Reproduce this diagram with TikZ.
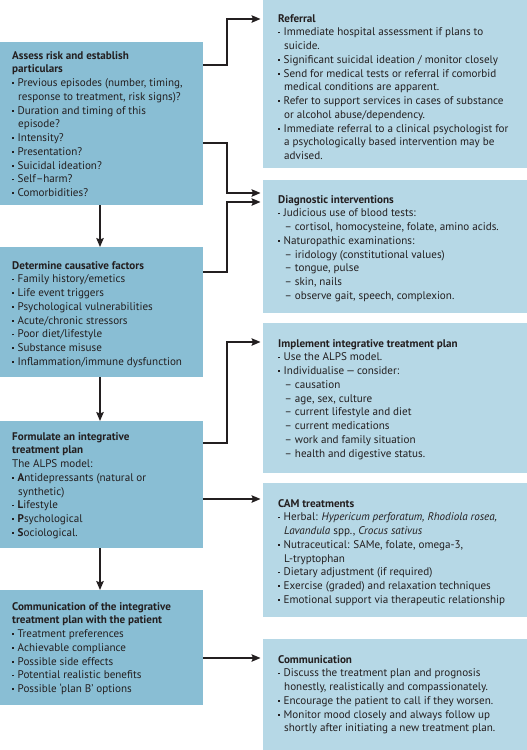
\documentclass[tikz,border=0pt]{standalone}
\usepackage{fontspec}
\setmainfont{PT Sans}
\usetikzlibrary{arrows.meta,calc}
\definecolor{lfill}{HTML}{89BED4}
\definecolor{rfill}{HTML}{B6D8E6}
\definecolor{ink}{HTML}{231F20}
\newcommand\bl{\makebox[5.5pt][l]{\rule[2.4pt]{1.8pt}{1.8pt}}}
\newcommand\cn{\hspace*{6pt}}
\newcommand\dl{\hspace*{6.5pt}–\ }
\begin{document}
\begin{tikzpicture}[x=1pt,y=-1pt,
  lbox/.style={draw=none,fill=lfill,anchor=north west,inner sep=0pt,outer sep=0pt},
  rbox/.style={draw=none,fill=rfill,anchor=north west,inner sep=0pt,outer sep=0pt},
  txt/.style={anchor=north west,inner sep=0pt,align=left,text=ink,
    font=\fontsize{11.1pt}{13.75pt}\selectfont},
  arr/.style={draw=ink,line width=1.3pt,-{Stealth[length=9pt,width=7.5pt,inset=1.5pt]},shorten >=2.5pt}]
\useasboundingbox (0,0) rectangle (527,750);
% left boxes
\node[lbox,minimum width=203pt,minimum height=163pt] (L1) at (0,42) {};
\node[lbox,minimum width=203pt,minimum height=130pt] (L2) at (0,247) {};
\node[lbox,minimum width=203pt,minimum height=127pt] (L3) at (0,421) {};
\node[lbox,minimum width=203pt,minimum height=115pt] (L4) at (0,590) {};
% right boxes
\node[rbox,minimum width=264pt,minimum height=168pt] (R1) at (263,0) {};
\node[rbox,minimum width=264pt,minimum height=133pt] (R2) at (263,180) {};
\node[rbox,minimum width=264pt,minimum height=150pt] (R3) at (263,323) {};
\node[rbox,minimum width=264pt,minimum height=134pt] (R4) at (263,483) {};
\node[rbox,minimum width=264pt,minimum height=111pt] (R5) at (263,639) {};
% texts
\node[txt] (T1) at (12,51) {\textbf{Assess risk and establish}\\
\textbf{particulars}\\
\bl Previous episodes (number, timing,\\
\cn response to treatment, risk signs)?\\
\bl Duration and timing of this\\
\cn episode?\\
\bl Intensity?\\
\bl Presentation?\\
\bl Suicidal ideation?\\
\bl Self–harm?\\
\bl Comorbidities?};
\node[txt] (T2) at (12,261) {\textbf{Determine causative factors}\\
\bl Family history/emetics\\
\bl Life event triggers\\
\bl Psychological vulnerabilities\\
\bl Acute/chronic stressors\\
\bl Poor diet/lifestyle\\
\bl Substance misuse\\
\bl Inflammation/immune dysfunction};
\node[txt] (T3) at (12,432) {\textbf{Formulate an integrative}\\
\textbf{treatment plan}\\
The ALPS model:\\
\bl \textbf{A}ntidepressants (natural or\\
\cn synthetic)\\
\bl \textbf{L}ifestyle\\
\bl \textbf{P}sychological\\
\bl \textbf{S}ociological.};
\node[txt] (T4) at (12,602) {\textbf{Communication of the integrative}\\
\textbf{treatment plan with the patient}\\
\bl Treatment preferences\\
\bl Achievable compliance\\
\bl Possible side effects\\
\bl Potential realistic benefits\\
\bl Possible ‘plan B’ options};
\node[txt] (U1) at (278,14) {\textbf{Referral}\\
\bl Immediate hospital assessment if plans to\\
\cn suicide.\\
\bl Significant suicidal ideation / monitor closely\\
\bl Send for medical tests or referral if comorbid\\
\cn medical conditions are apparent.\\
\bl Refer to support services in cases of substance\\
\cn or alcohol abuse/dependency.\\
\bl Immediate referral to a clinical psychologist for\\
\cn a psychologically based intervention may be\\
\cn advised.};
\node[txt] (U2) at (278,195) {\textbf{Diagnostic interventions}\\
\bl Judicious use of blood tests:\\
\dl cortisol, homocysteine, folate, amino acids.\\
\bl Naturopathic examinations:\\
\dl iridology (constitutional values)\\
\dl tongue, pulse\\
\dl skin, nails\\
\dl observe gait, speech, complexion.};
\node[txt] (U3) at (278,339) {\textbf{Implement integrative treatment plan}\\
\bl Use the ALPS model.\\
\bl Individualise\,—\,consider:\\
\dl causation\\
\dl age, sex, culture\\
\dl current lifestyle and diet\\
\dl current medications\\
\dl work and family situation\\
\dl health and digestive status.};
\node[txt] (U4) at (278,499) {\textbf{CAM treatments}\\
\bl Herbal: \textit{Hypericum perforatum, Rhodiola rosea,}\\
\cn \textit{Lavandula} spp., \textit{Crocus sativus}\\
\bl Nutraceutical: SAMe, folate, omega-3,\\
\cn L-tryptophan\\
\bl Dietary adjustment (if required)\\
\bl Exercise (graded) and relaxation techniques\\
\bl Emotional support via therapeutic relationship};
\node[txt] (U5) at (278,655) {\textbf{Communication}\\
\bl Discuss the treatment plan and prognosis\\
\cn honestly, realistically and compassionately.\\
\bl Encourage the patient to call if they worsen.\\
\bl Monitor mood closely and always follow up\\
\cn shortly after initiating a new treatment plan.};
% vertical arrows
\draw[arr,shorten >=0pt] (L1.south) ++(-1.5,0) -- ($(L2.north)+(-1.5,0)$);
\draw[arr,shorten >=0pt] ($(L2.south)+(-1.5,0)$) -- ($(L3.north)+(-1.5,0)$);
\draw[arr,shorten >=0pt] ($(L3.south)+(-1.5,0)$) -- ($(L4.north)+(-1.5,0)$);
% elbow arrows
\draw[arr] (L1.east |- 0,65) -- (227,65) |- (R1.west |- 0,19);
\draw[arr] (L1.east |- 0,143) -- (227,143) |- (R2.west |- 0,193);
\draw[arr] (L2.east |- 0,272) -- (227,272) |- (R2.west |- 0,202);
\draw[arr] (L3.east |- 0,443) -- (227,443) |- (R3.west |- 0,342);
\draw[arr] (L3.east |- 0,499) -- (R4.west |- 0,499);
\draw[arr] (L4.east |- 0,658) -- (R5.west |- 0,658);
\end{tikzpicture}
\end{document}
